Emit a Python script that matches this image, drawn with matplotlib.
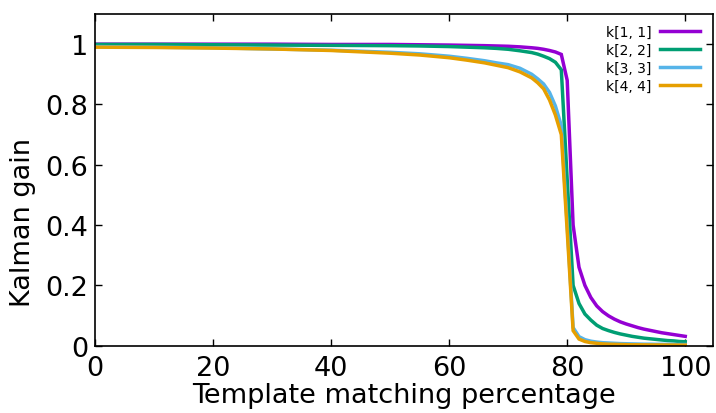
import matplotlib
matplotlib.use("Agg")
import matplotlib.pyplot as plt

# ---- data ----
x = [0, 10, 20, 30, 40, 50, 55, 60, 63, 66, 68, 70, 72, 74, 75, 76, 77, 78, 79,
     80, 81, 82, 83, 84, 85, 86, 87, 88, 89, 90, 91, 92, 93, 94, 95, 96, 97, 98, 99, 100]

k11 = [1.0, 1.0, 1.0, 1.0, 0.999, 0.999, 0.998, 0.997, 0.996, 0.995, 0.994, 0.993, 0.991, 0.988, 0.986, 0.983, 0.979, 0.974, 0.966,
       0.88, 0.40, 0.26, 0.20, 0.16, 0.132, 0.113, 0.099, 0.088, 0.079, 0.072, 0.066, 0.060, 0.055, 0.051, 0.047, 0.043, 0.040, 0.037, 0.034, 0.031]

k22 = [0.999, 0.999, 0.998, 0.997, 0.996, 0.995, 0.994, 0.992, 0.990, 0.988, 0.986, 0.983, 0.978, 0.972, 0.967, 0.960, 0.952, 0.940, 0.915,
       0.55, 0.20, 0.14, 0.105, 0.085, 0.068, 0.057, 0.050, 0.044, 0.039, 0.035, 0.031, 0.028, 0.025, 0.023, 0.021, 0.019, 0.017, 0.016, 0.014, 0.013]

k33 = [0.992, 0.990, 0.988, 0.984, 0.980, 0.973, 0.968, 0.960, 0.953, 0.945, 0.938, 0.932, 0.920, 0.900, 0.885, 0.868, 0.840, 0.795, 0.730,
       0.40, 0.06, 0.030, 0.020, 0.015, 0.012, 0.010, 0.009, 0.008, 0.007, 0.0065, 0.006, 0.0055, 0.005, 0.005, 0.0045, 0.0045, 0.004, 0.004, 0.004, 0.004]

k44 = [0.990, 0.989, 0.987, 0.984, 0.979, 0.970, 0.964, 0.955, 0.947, 0.938, 0.930, 0.922, 0.908, 0.888, 0.872, 0.852, 0.815, 0.765, 0.700,
       0.38, 0.05, 0.022, 0.014, 0.010, 0.008, 0.006, 0.005, 0.0045, 0.004, 0.0035, 0.003, 0.003, 0.0028, 0.0026, 0.0025, 0.0024, 0.0023, 0.0022, 0.0021, 0.002]

series = [("k[1, 1]", k11, "#9400d3"),
          ("k[2, 2]", k22, "#009e73"),
          ("k[3, 3]", k33, "#56b4e9"),
          ("k[4, 4]", k44, "#e69f00")]

xticks = [0, 20, 40, 60, 80, 100]
yticks = [0, 0.2, 0.4, 0.6, 0.8, 1.0]
yticklabels = ["0", "0.2", "0.4", "0.6", "0.8", "1"]

plt.rcParams['font.family'] = ['DejaVu Sans']

fig = plt.figure(figsize=(7.16, 4.14), dpi=100)
ax = fig.add_axes([95/716, 1 - 346.7/414, 618/716, 331.7/414])

for label, vals, col in series:
    ax.plot(x, vals, color=col, lw=2.5, label=label, solid_joinstyle='miter')

ax.set_xlim(0, 104.7)
ax.set_ylim(0, 1.1)
ax.set_xticks(xticks)
ax.set_yticks(yticks)
ax.set_yticklabels(yticklabels)
ax.tick_params(direction='in', length=5, width=1.0, top=True, right=True,
               labelsize=19.5, color='black')
ax.tick_params(axis='x', pad=7)
ax.tick_params(axis='y', pad=5)
for s in ax.spines.values():
    s.set_linewidth(1.2)
    s.set_color('black')

ax.set_xlabel("Template matching percentage", fontsize=19.5)
ax.set_ylabel("Kalman gain", fontsize=19.5)
ax.xaxis.set_label_coords(0.5, -0.108)
ax.yaxis.set_label_coords(-0.095, 0.375)

leg = ax.legend(loc='upper right', bbox_to_anchor=(700/716, 1 - 26/414),
                bbox_transform=fig.transFigure, frameon=False, fontsize=10,
                markerfirst=False, handlelength=2.9, handletextpad=0.6,
                labelspacing=0.28, borderpad=0, borderaxespad=0)

fig.savefig("out.png", dpi=100)
